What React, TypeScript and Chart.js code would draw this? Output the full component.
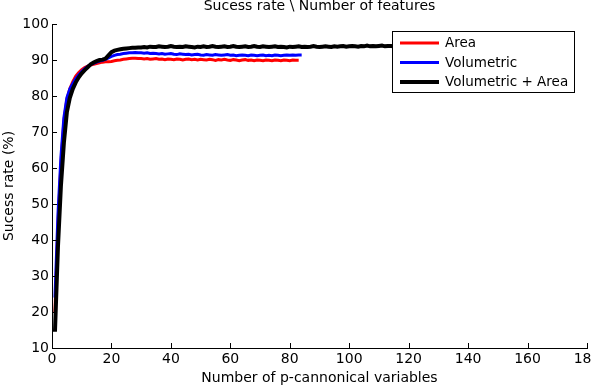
import React, { useEffect, useRef } from "react";
import { Chart, registerables } from "chart.js";

Chart.register(...registerables);

const TITLE = "Sucess rate \\ Number of features";
const X_TITLE = "Number of p-cannonical variables";
const Y_TITLE = "Sucess rate (%)";
const SERIES_NAMES = ["Area", "Volumetric", "Volumetric + Area"];
const SERIES_COLORS = ["#ff0000", "#0000ff", "#000000"];
const SERIES_WIDTHS = [3, 3, 4];

// success rate (%) for 1, 2, 3, ... p-cannonical variables
const areaRate = [
  20, 44, 61, 73, 79, 82, 84, 85.5, 86.5, 87.3,
  87.9, 88.3, 88.6, 88.8, 89.0, 89.2, 89.4, 89.5, 89.5, 89.6,
  89.8, 89.9, 90.0, 90.2, 90.3, 90.4, 90.5, 90.5, 90.4, 90.4,
  90.3, 90.4, 90.2, 90.3, 90.4, 90.2, 90.3, 90.1, 90.3, 90.2,
  90.1, 90.3, 90.2, 90.0, 90.2, 90.3, 90.1, 90.2, 90.0, 90.2,
  90.1, 90.0, 90.2, 90.1, 89.9, 90.1, 90.0, 90.2, 90.0, 89.9,
  90.1, 90.0, 89.8, 90.0, 90.1, 89.9, 90.0, 89.8, 90.0, 89.9,
  89.8, 90.0, 89.9, 89.8, 90.0, 89.9, 89.8, 90.0, 89.9, 89.8,
  90.0, 89.9, 89.9,
];

const volumetricRate = [
  24, 47, 63, 74, 79.5, 82, 83.5, 84.8, 85.9, 86.8,
  87.6, 88.2, 88.7, 89.1, 89.4, 89.7, 89.9, 90.2, 90.6, 91.0,
  91.3, 91.5, 91.6, 91.8, 91.9, 92.0, 92.0, 92.1, 92.0, 92.0,
  91.9, 92.0, 91.8, 91.9, 91.8, 91.7, 91.8, 91.6, 91.7, 91.8,
  91.6, 91.5, 91.7, 91.6, 91.5, 91.6, 91.4, 91.5, 91.6, 91.4,
  91.3, 91.5, 91.4, 91.3, 91.5, 91.4, 91.3, 91.4, 91.5, 91.3,
  91.4, 91.2, 91.3, 91.4, 91.3, 91.2, 91.4, 91.3, 91.2, 91.3,
  91.4, 91.2, 91.3, 91.2, 91.4, 91.3, 91.2, 91.3, 91.4, 91.3,
  91.4, 91.3, 91.4, 91.4,
];

const combinedRate = [
  14.5, 38, 55, 67, 75.5, 79.5, 82, 83.8, 85.2, 86.3,
  87.2, 88.0, 88.8, 89.3, 89.7, 90.0, 90.1, 90.4, 91.3, 92.2,
  92.6, 92.8, 93.0, 93.1, 93.2, 93.3, 93.4, 93.4, 93.5, 93.5,
  93.6, 93.5, 93.7, 93.6, 93.6, 93.8, 93.7, 93.6, 93.7, 93.9,
  93.7, 93.6, 93.7, 93.6, 93.8, 93.7, 93.6, 93.5, 93.7, 93.6,
  93.8, 93.6, 93.7, 93.9, 93.7, 93.6, 93.7, 93.8, 93.6, 93.7,
  93.9, 93.7, 93.6, 93.7, 93.8, 93.6, 93.7, 93.9, 93.7, 93.6,
  93.8, 93.7, 93.6, 93.7, 93.8, 93.6, 93.7, 93.6, 93.5, 93.7,
  93.6, 93.7, 93.8, 93.6, 93.7, 93.6, 93.7, 93.9, 93.7, 93.6,
  93.7, 93.8, 93.7, 93.6, 93.8, 93.7, 93.8, 93.9, 93.7, 93.8,
  93.9, 93.8, 93.7, 93.9, 93.8, 94.0, 93.8, 93.9, 93.8, 93.9,
  94.0, 93.8, 93.9, 93.9, 93.8, 93.9, 94.0, 93.8, 93.9, 93.9,
];

const X_MIN = 0;
const X_MAX = 180;
const X_STEP = 20;
const Y_MIN = 10;
const Y_MAX = 100;
const Y_STEP = 10;

const FONT = "'DejaVu Sans', sans-serif";

const toPoints = (vals: number[]) => vals.map((v, i) => ({ x: i + 1, y: v }));

const tickPlugin = {
  id: "inwardTicks",
  afterDatasetsDraw(chart: any) {
    const { ctx, chartArea, scales } = chart;
    const len = 5;
    ctx.save();
    ctx.strokeStyle = "#000";
    ctx.lineWidth = 1;
    ctx.beginPath();
    for (let v = X_MIN; v <= X_MAX; v += X_STEP) {
      const px = Math.round(scales.x.getPixelForValue(v)) + 0.5;
      ctx.moveTo(px, chartArea.bottom);
      ctx.lineTo(px, chartArea.bottom - len);
    }
    for (let v = Y_MIN; v <= Y_MAX; v += Y_STEP) {
      const py = Math.round(scales.y.getPixelForValue(v)) + 0.5;
      ctx.moveTo(chartArea.left, py);
      ctx.lineTo(chartArea.left + len, py);
    }
    ctx.stroke();

    // legend box
    const bx = chartArea.right - 195;
    const by = chartArea.top + 7;
    const bw = 182;
    const bh = 61;
    ctx.fillStyle = "#fff";
    ctx.fillRect(bx, by, bw, bh);
    ctx.strokeRect(bx + 0.5, by + 0.5, bw, bh);
    ctx.font = `13.5px ${FONT}`;
    ctx.textBaseline = "middle";
    ctx.textAlign = "left";
    const rows = [12, 31.5, 51];
    SERIES_NAMES.forEach((name, i) => {
      const y = by + rows[i];
      ctx.strokeStyle = SERIES_COLORS[i];
      ctx.lineWidth = SERIES_WIDTHS[i];
      ctx.beginPath();
      ctx.moveTo(bx + 8, y);
      ctx.lineTo(bx + 47, y);
      ctx.stroke();
      ctx.fillStyle = "#000";
      ctx.fillText(name, bx + 53, y + 0.5);
    });

    // title
    ctx.font = `14px ${FONT}`;
    ctx.textAlign = "center";
    ctx.textBaseline = "alphabetic";
    ctx.fillStyle = "#000";
    ctx.fillText(TITLE, (chartArea.left + chartArea.right) / 2, 9.5);
    ctx.restore();
  },
};

export default function App() {
  const ref = useRef<HTMLCanvasElement | null>(null);

  useEffect(() => {
    if (!ref.current) return;
    const datasets = [areaRate, volumetricRate, combinedRate].map((vals, i) => ({
      label: SERIES_NAMES[i],
      data: toPoints(vals),
      borderColor: SERIES_COLORS[i],
      backgroundColor: SERIES_COLORS[i],
      borderWidth: SERIES_WIDTHS[i],
      pointRadius: 0,
      tension: 0,
      fill: false,
      order: 2 - i,
    }));
    const chart = new Chart(ref.current, {
      type: "line",
      data: { datasets },
      plugins: [tickPlugin],
      options: {
        animation: false,
        responsive: false,
        maintainAspectRatio: false,
        devicePixelRatio: 1,
        layout: { padding: { top: 24, right: 5, bottom: 0, left: 0 } },
        plugins: {
          legend: { display: false },
          title: { display: false },
          tooltip: { enabled: false },
        },
        scales: {
          x: {
            type: "linear",
            min: X_MIN,
            max: X_MAX,
            grid: { display: true, drawOnChartArea: false, drawTicks: false },
            border: { display: true, color: "#000", width: 1 },
            ticks: {
              stepSize: X_STEP,
              color: "#000",
              padding: 3,
              maxRotation: 0,
              autoSkip: false,
              font: { family: FONT, size: 14 },
            },
            title: {
              display: true,
              text: X_TITLE,
              color: "#000",
              font: { family: FONT, size: 14 },
              padding: { top: 0, bottom: 1 },
            },
            afterFit: (s: any) => {
              s.height = 40;
              s.paddingLeft = 0;
              s.paddingRight = 0;
            },
          },
          y: {
            type: "linear",
            min: Y_MIN,
            max: Y_MAX,
            grid: { display: true, drawOnChartArea: false, drawTicks: false },
            border: { display: true, color: "#000", width: 1 },
            ticks: {
              stepSize: Y_STEP,
              color: "#000",
              padding: 3,
              font: { family: FONT, size: 14 },
            },
            title: {
              display: true,
              text: Y_TITLE,
              color: "#000",
              font: { family: FONT, size: 14 },
              padding: { top: 1, bottom: 0 },
            },
            afterFit: (s: any) => {
              s.width = 52;
              s.paddingTop = 0;
              s.paddingBottom = 0;
            },
          },
        },
      },
    } as any);
    return () => chart.destroy();
  }, []);

  return (
    <div style={{ position: "fixed", left: 0, top: 0, width: 592, height: 388, background: "#fff" }}>
      <canvas ref={ref} width={592} height={388} style={{ display: "block", width: 592, height: 388 }} />
    </div>
  );
}
